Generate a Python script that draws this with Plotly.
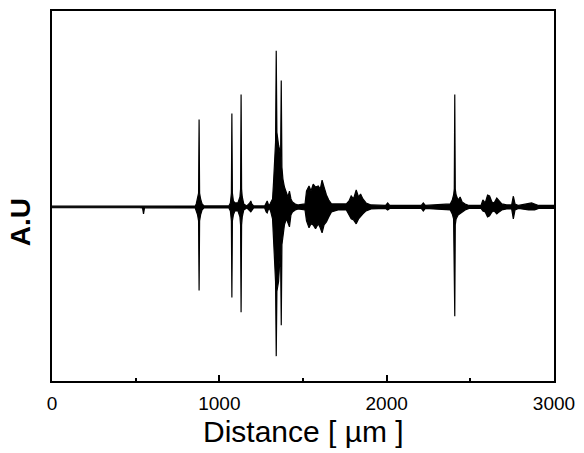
import plotly.graph_objects as go

distance_um = [
    0, 523, 541, 547, 553, 856, 862, 870, 876, 879, 882, 888, 897, 909,
    1057, 1066, 1072, 1075, 1078, 1084, 1093, 1111, 1123, 1127, 1130, 1133, 1137, 1146,
    1164, 1182, 1188, 1194, 1205, 1271, 1280, 1286, 1292, 1300,
    1306, 1318, 1324, 1330, 1336, 1340, 1344, 1354, 1360, 1366, 1370, 1374, 1380,
    1389, 1401, 1410, 1419, 1428, 1437, 1454, 1472,
    1512, 1521, 1536, 1548, 1561, 1575, 1591, 1603, 1614, 1626, 1640, 1654, 1670,
    1709, 1759, 1775, 1788, 1802, 1818, 1832, 1844, 1858, 1877, 1907,
    1994, 2006, 2018, 2207, 2219, 2231,
    2380, 2392, 2400, 2404, 2407, 2410, 2415, 2427, 2439, 2451, 2469, 2492,
    2564, 2575, 2589, 2603, 2615, 2629, 2642, 2658, 2672, 2688, 2717, 2747, 2757,
    2767, 2788, 2848, 2866, 2884, 2908, 3000,
]
upper_au = [
    0.8, 0.8, 1, 1, 0.8, 1, 3, 8, 14, 88, 14, 8, 3, 1,
    1, 4, 14, 94, 14, 6, 4, 4, 10, 18, 113, 18, 10, 3,
    1, 4, 6, 3, 1, 1, 5, 6, 3, 1.5,
    4, 8, 25, 45, 65, 157, 75, 62, 58, 50, 127, 40, 28,
    20, 14, 10, 16, 8, 5, 3, 2,
    3, 16, 21, 16, 23, 20, 21, 18, 27, 20, 12, 7, 3,
    3, 3, 6, 11, 8, 17, 10, 13, 8, 4, 2,
    1.5, 4, 1.5, 1.5, 4, 1.5,
    3, 7, 12, 18, 113, 18, 12, 7, 10, 5, 3, 1.5,
    1.5, 7, 4, 12, 11, 5, 4, 9, 6, 3, 2, 2, 11,
    3, 1.5, 3, 4, 3, 1.5, 1.5,
]
lower_au = [
    -0.8, -0.8, -1, -7, -0.8, -1, -3, -8, -14, -84, -14, -8, -3, -1,
    -1, -4, -14, -91, -14, -8, -4, -4, -10, -18, -106, -18, -10, -3,
    -1, -4, -5, -3, -1, -1, -5, -6, -3, -1.5,
    -4, -12, -35, -55, -75, -150, -85, -75, -58, -48, -119, -38, -28,
    -18, -12, -15, -20, -8, -5, -3, -2,
    -3, -14, -21, -17, -18, -22, -17, -21, -26, -18, -15, -10, -5,
    -3, -3, -8, -12, -13, -17, -12, -10, -7, -4, -2,
    -1.5, -3, -1.5, -1.5, -4, -1.5,
    -3, -7, -12, -18, -110, -18, -12, -8, -6, -5, -3, -1.5,
    -1.5, -4, -5, -10, -9, -5, -4, -7, -5, -3, -2, -2, -12,
    -3, -1.5, -3, -3, -3, -1.5, -1.5,
]

x_ticks = [0, 1000, 2000, 3000]
x_tick_labels = ["0", "1000", "2000", "3000"]
x_title = "Distance [ \u00b5m ]"
y_title = "A.U"

poly_x = distance_um + distance_um[::-1]
poly_y = upper_au + lower_au[::-1]

fig = go.Figure()
fig.add_trace(go.Scatter(
    x=poly_x, y=poly_y, mode="lines", fill="toself",
    fillcolor="black", line=dict(color="black", width=1.2),
    hoverinfo="skip", showlegend=False,
))

font_family = "Liberation Sans, Arial, sans-serif"

fig.update_layout(
    width=584, height=453,
    margin=dict(l=52, r=26, t=9, b=72),
    paper_bgcolor="white", plot_bgcolor="white",
    showlegend=False,
    font=dict(family=font_family, color="black"),
    xaxis=dict(
        range=[0, 3000], tickmode="array", tickvals=x_ticks, ticktext=x_tick_labels,
        ticks="inside", ticklen=6, tickwidth=2, tickcolor="black",
        minor=dict(ticks="inside", dtick=500, ticklen=3, tickwidth=2, tickcolor="black"),
        showline=True, linecolor="black", linewidth=2, mirror=True,
        showgrid=False, zeroline=False,
        tickfont=dict(size=19, family=font_family, color="black"),
        ticklabelstandoff=4,
    ),
    yaxis=dict(
        range=[-175, 197], showticklabels=False, ticks="",
        showline=True, linecolor="black", linewidth=2, mirror=True,
        showgrid=False, zeroline=False,
    ),
    annotations=[
        dict(text=x_title, xref="paper", yref="paper", x=0.5, y=-0.137,
             xanchor="center", yanchor="middle", showarrow=False,
             font=dict(size=30, family=font_family, color="black")),
        dict(text="<b>" + y_title + "</b>", xref="paper", yref="paper",
             x=-0.061, y=0.43, xanchor="center", yanchor="middle",
             textangle=-90, showarrow=False,
             font=dict(size=28, family=font_family, color="black")),
    ],
)

fig.write_html("out.html", config={"displayModeBar": False},
               post_script="document.body.style.margin='0';")
